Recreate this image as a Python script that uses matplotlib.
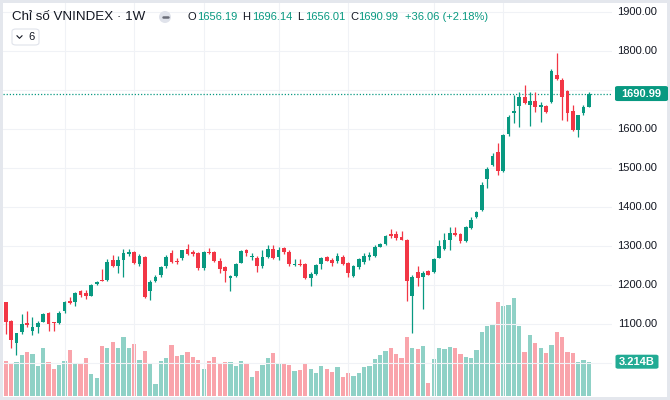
import numpy as np
import matplotlib
matplotlib.use('Agg')
import matplotlib.pyplot as plt
from matplotlib.patches import Rectangle, FancyBboxPatch, Ellipse
from matplotlib.lines import Line2D
from matplotlib.transforms import blended_transform_factory

plt.rcParams['font.family'] = ['Liberation Sans', 'DejaVu Sans']

# weekly VNINDEX candles (oldest first)
opens = [1156, 1108, 1053, 1079, 1103, 1084, 1094, 1107, 1128, 1105,
         1102, 1135, 1160, 1158, 1185, 1179, 1173, 1202, 1214, 1213,
         1265, 1248, 1265, 1279, 1284, 1254, 1273, 1185, 1211, 1226,
         1250, 1282, 1262, 1271, 1293, 1284, 1282, 1243, 1286, 1284,
         1262, 1247, 1219, 1224, 1258, 1290, 1272, 1271, 1249, 1273,
         1293, 1273, 1296, 1286, 1252, 1255, 1254, 1218, 1228, 1254,
         1272, 1265, 1263, 1273, 1256, 1224, 1247, 1259, 1273, 1276,
         1299, 1306, 1330, 1330, 1323, 1316, 1173, 1235, 1220, 1236,
         1233, 1271, 1293, 1316, 1333, 1331, 1313, 1346, 1374, 1393,
         1471, 1508, 1542, 1493, 1587, 1640, 1660, 1683, 1661, 1673,
         1656, 1660, 1670, 1738, 1726, 1698, 1647, 1598, 1640, 1656.19]
highs = [1158, 1111, 1077, 1126, 1134, 1119, 1108, 1130, 1132, 1107,
         1135, 1160, 1171, 1183, 1187, 1187, 1203, 1211, 1241, 1266,
         1277, 1276, 1293, 1293, 1288, 1280, 1276, 1213, 1226, 1250,
         1277, 1290, 1271, 1291, 1305, 1290, 1284, 1288, 1296, 1287,
         1270, 1250, 1227, 1257, 1291, 1293, 1282, 1275, 1290, 1303,
         1303, 1298, 1299, 1289, 1267, 1267, 1257, 1234, 1254, 1273,
         1274, 1269, 1282, 1277, 1259, 1251, 1269, 1282, 1284, 1302,
         1309, 1329, 1343, 1340, 1339, 1318, 1225, 1248, 1236, 1238,
         1270, 1316, 1333, 1350, 1350, 1333, 1353, 1375, 1391, 1465,
         1504, 1540, 1565, 1587, 1635, 1687, 1696, 1713, 1696, 1696,
         1670, 1662, 1753, 1796, 1730, 1700, 1662, 1636, 1661, 1696.14]
lows = [1075, 1039, 1021, 1075, 1092, 1072, 1078, 1105, 1084, 1084,
        1101, 1130, 1153, 1148, 1171, 1166, 1172, 1201, 1211, 1212,
        1246, 1232, 1222, 1275, 1254, 1248, 1167, 1162, 1208, 1222,
        1245, 1257, 1255, 1265, 1277, 1274, 1239, 1238, 1279, 1260,
        1232, 1209, 1186, 1222, 1256, 1275, 1264, 1233, 1244, 1271,
        1266, 1264, 1280, 1250, 1250, 1250, 1215, 1199, 1226, 1241,
        1262, 1250, 1256, 1251, 1222, 1220, 1241, 1254, 1265, 1273,
        1297, 1304, 1320, 1317, 1316, 1160, 1077, 1198, 1140, 1225,
        1231, 1269, 1290, 1290, 1326, 1307, 1311, 1343, 1372, 1391,
        1448, 1505, 1482, 1490, 1583, 1615, 1606, 1664, 1608, 1645,
        1619, 1642, 1666, 1725, 1623, 1621, 1596, 1580, 1636, 1656.01]
closes = [1107, 1060, 1077, 1101, 1099, 1094, 1102, 1126, 1101, 1102,
          1130, 1156, 1154, 1181, 1175, 1173, 1201, 1209, 1212, 1260,
          1248, 1265, 1282, 1284, 1256, 1276, 1171, 1209, 1222, 1246,
          1273, 1260, 1260, 1289, 1279, 1279, 1243, 1284, 1282, 1263,
          1241, 1236, 1224, 1254, 1288, 1282, 1274, 1249, 1273, 1293,
          1269, 1290, 1284, 1254, 1255, 1252, 1218, 1228, 1252, 1271,
          1263, 1256, 1276, 1254, 1231, 1249, 1266, 1276, 1277, 1297,
          1306, 1327, 1326, 1320, 1316, 1211, 1222, 1218, 1231, 1227,
          1267, 1300, 1316, 1335, 1329, 1313, 1350, 1367, 1388, 1457,
          1497, 1531, 1493, 1585, 1632, 1646, 1683, 1666, 1672, 1657,
          1662, 1645, 1749, 1728, 1683, 1641, 1598, 1636, 1656, 1690.99]
# volume in billions
volumes = [3.28, 3.12, 3.21, 3.84, 4.09, 3.94, 2.84, 4.53, 3.21, 2.50,
           2.90, 3.28, 4.31, 3.00, 3.00, 3.53, 2.06, 1.71, 4.71, 4.47,
           5.09, 4.53, 5.50, 4.47, 4.84, 3.37, 4.24, 3.00, 1.12, 3.28,
           3.53, 4.78, 3.78, 3.84, 4.15, 3.68, 3.37, 2.53, 3.31, 3.68,
           3.00, 3.21, 3.21, 2.81, 3.31, 3.00, 1.75, 2.34, 2.90, 3.59,
           4.00, 3.00, 3.00, 2.90, 2.34, 2.44, 3.00, 2.50, 2.13, 2.81,
           2.50, 2.28, 2.72, 1.75, 2.18, 1.90, 2.18, 2.72, 2.84, 3.44,
           3.87, 4.24, 4.50, 3.94, 3.53, 5.50, 4.47, 4.38, 4.69, 1.19,
           3.44, 4.47, 4.38, 4.62, 4.47, 3.91, 3.65, 3.59, 4.31, 5.97,
           6.59, 6.75, 8.84, 8.46, 8.53, 9.21, 6.59, 4.09, 5.69, 4.94,
           4.47, 4.00, 4.78, 5.97, 5.56, 4.09, 4.00, 3.16, 3.37, 3.214]

price_ticks = [1100, 1200, 1300, 1400, 1500, 1600, 1800, 1900]
grid_prices = [1000, 1100, 1200, 1300, 1400, 1500, 1600, 1700, 1800, 1900]
vgrid_idx = [11, 24, 37, 51, 64, 80, 93]
prev_close = 1654.93  # close of the week before the last one

UP = '#089981'
DOWN = '#F23645'
TXT = '#131722'

W, H = 670, 400
fig = plt.figure(figsize=(W / 100, H / 100), dpi=100, facecolor='#e4e7ed')

def rect_px(x0, y0, w, h):
    # pixel box (from top left) -> figure fraction
    return [x0 / W, 1 - (y0 + h) / H, w / W, h / H]

def ftxt(x, y, s, **kw):
    kw.setdefault('va', 'center')
    kw.setdefault('ha', 'left')
    return fig.text(x / W, 1 - y / H, s, **kw)

# white chart panel
fig.add_artist(Rectangle((3 / W, 3 / H), 664 / W, 394 / H, transform=fig.transFigure,
                         facecolor='white', edgecolor='none', zorder=-1))

area = rect_px(3, 3, 609, 393)
ax_vol = fig.add_axes(area)
ax = fig.add_axes(area)
x = np.arange(len(closes))
xlim = (-0.505, 113.33)

up = np.array(closes) >= np.array(opens)
cols = [UP if u else DOWN for u in up]

# volume pane
ax_vol.bar(x, volumes, width=0.8, color=cols, alpha=0.45, linewidth=0)
ax_vol.set_xlim(xlim)
ax_vol.set_ylim(0, 36.83)

# grid
for p in grid_prices:
    ax.axhline(p, color='#f0f2f6', lw=0.8, zorder=0)
for v in vgrid_idx:
    ax.axvline(v, color='#f0f2f6', lw=0.8, zorder=0)

# candles
ax.vlines(x, lows, highs, colors=cols, lw=0.9, zorder=2)
bottoms = np.minimum(opens, closes)
heights = np.maximum(np.abs(np.array(closes) - np.array(opens)), 1.5)
ax.bar(x, heights, bottom=bottoms, width=0.7, color=cols, linewidth=0, zorder=3)

last = closes[-1]
ax.axhline(last, color=UP, lw=0.9, ls=(0, (1, 1.5)), zorder=1)

ax.set_xlim(xlim)
ax.set_ylim(916.28, 1922.95)
for a in (ax, ax_vol):
    a.set_facecolor('none')
    a.set_xticks([])
    a.set_yticks([])
    for s in a.spines.values():
        s.set_visible(False)

# price scale labels
tr = blended_transform_factory(fig.transFigure, ax.transData)
for p in price_ticks:
    fig.text(657 / W, p, '%.2f' % p, transform=tr, ha='right', va='center',
             fontsize=8, color=TXT)

# last price tag
ty = ax.transData.transform((0, last))[1]
ty_px = H - ty
fig.add_artist(FancyBboxPatch((615 / W, 1 - (ty_px + 7.5) / H), 53 / W, 15 / H,
                              boxstyle='round,pad=0,rounding_size=0.004',
                              transform=fig.transFigure, fc=UP, ec='none'))
ftxt(641, ty_px, '%.2f' % last, ha='center', fontsize=8, color='white', fontweight='bold')

# volume tag
vy = ax_vol.transData.transform((0, volumes[-1]))[1]
vy_px = H - vy
fig.add_artist(FancyBboxPatch((615.5 / W, 1 - (vy_px + 7) / H), 43 / W, 14 / H,
                              boxstyle='round,pad=0,rounding_size=0.004',
                              transform=fig.transFigure, fc='#22ab94', ec='none'))
ftxt(637, vy_px, '3.214B', ha='center', fontsize=8, color='white', fontweight='bold')

# header legend
ftxt(12, 17, 'Chỉ số VNINDEX · 1W', fontsize=9.6, color=TXT)
fig.add_artist(Ellipse((165 / W, 1 - 17 / H), 12 / W, 12 / H, transform=fig.transFigure,
                       fc='#e0e3eb', ec='none'))
fig.add_artist(Line2D([162.5 / W, 167.5 / W], [1 - 17 / H, 1 - 17 / H], transform=fig.transFigure,
                      color='#6a6d78', lw=1.8, solid_capstyle='round'))
ohlc = [('O', 188, 197, '%.2f' % opens[-1]), ('H', 242, 252, '%.2f' % highs[-1]),
        ('L', 297, 305, '%.2f' % lows[-1]), ('C', 350, 358, '%.2f' % closes[-1])]
for lab, lx, vx, val in ohlc:
    ftxt(lx, 17, lab, fontsize=8, color=TXT)
    ftxt(vx, 17, val, fontsize=8, color=UP)
chg = closes[-1] - prev_close
ftxt(405, 17, '+%.2f (+%.2f%%)' % (chg, chg / prev_close * 100), fontsize=8, color=UP)

# collapsed indicators box
fig.add_artist(FancyBboxPatch((12 / W, 1 - 45 / H), 27 / W, 16 / H,
                              boxstyle='round,pad=0,rounding_size=0.006',
                              transform=fig.transFigure, fc='white', ec='#e0e3eb', lw=0.8))
fig.add_artist(Line2D([17 / W, 19.5 / W, 22 / W], [1 - 35.8 / H, 1 - 38.3 / H, 1 - 35.8 / H],
                      transform=fig.transFigure, color=TXT, lw=0.8))
ftxt(28, 37, '6', fontsize=8, color=TXT)

fig.savefig('out.png', dpi=100, facecolor=fig.get_facecolor())
